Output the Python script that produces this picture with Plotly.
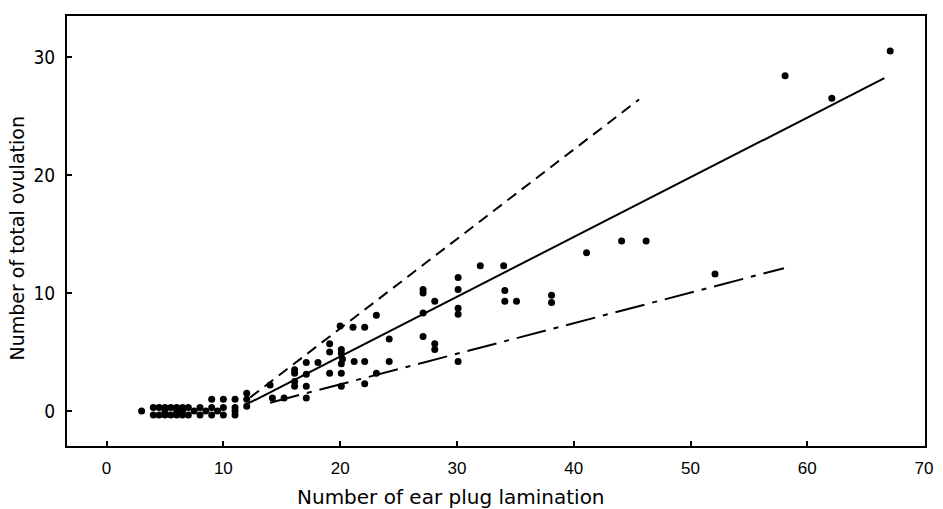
import plotly.graph_objects as go

# Scatter data: number of ear plug laminations vs number of total ovulations
lam_x = [3, 4, 4, 4.5, 4.5, 5, 5, 5, 5.5, 5.5, 6, 6, 6, 6.5, 6.5, 6.5, 7, 7, 7.5, 8, 8, 8.5,
         9, 9, 9, 9.5, 10, 10, 10, 11, 11, 11, 11, 12, 12, 12,
         14, 14.2, 15.2, 16.1, 16.1, 16.1, 16.1, 17.1, 17.1, 17.1, 17.1, 18.1,
         19.1, 19.1, 19.1, 20, 20.1, 20.1, 20.2, 20.1, 20.1, 20.1,
         21.1, 21.2, 22.1, 22.1, 22.1, 23.1, 23.1, 24.2, 24.2,
         27.1, 27.1, 27.1, 27.1, 28.1, 28.1, 28.1, 30.1, 30.1, 30.1, 30.1, 30.1,
         32, 34, 34.1, 34.1, 35.1, 38.1, 38.1, 41.1, 44.1, 46.2, 52.1, 58.1, 62.1, 67.1]
ovu_y = [0, 0.3, -0.35, 0.3, -0.35, 0.3, 0, -0.35, 0.3, -0.35, 0.3, 0, -0.35, 0.3, 0, -0.35, 0.3, -0.35, 0, 0.3, -0.35, 0,
         1, 0.3, -0.35, 0, 1, 0.3, -0.35, 1, 0.3, 0, -0.35, 1.5, 1, 0.4,
         2.2, 1.1, 1.1, 3.5, 3.2, 2.5, 2.1, 4.1, 3.1, 2.1, 1.1, 4.1,
         5.7, 5.0, 3.2, 7.2, 5.2, 4.9, 4.4, 4.0, 3.2, 2.1,
         7.1, 4.2, 7.1, 4.2, 2.3, 8.1, 3.2, 6.1, 4.2,
         10.3, 10.0, 8.3, 6.3, 9.3, 5.7, 5.2, 11.3, 10.3, 8.7, 8.2, 4.2,
         12.3, 12.3, 10.2, 9.3, 9.3, 9.8, 9.2, 13.4, 14.4, 14.4, 11.6, 28.4, 26.5, 30.5]

# Regression lines (end points)
solid_x = [12, 66.6]
solid_y = [0.57, 28.2]
dashed_x = [12.3, 45.6]
dashed_y = [1.15, 26.4]
dashdot_x = [14, 58]
dashdot_y = [0.7, 12.1]

x_ticks = [0, 10, 20, 30, 40, 50, 60, 70]
y_ticks = [0, 10, 20, 30]

fig = go.Figure()
fig.add_trace(go.Scatter(x=solid_x, y=solid_y, mode="lines",
                         line=dict(color="black", width=2), showlegend=False))
fig.add_trace(go.Scatter(x=dashed_x, y=dashed_y, mode="lines",
                         line=dict(color="black", width=2, dash="11px,7px"), showlegend=False))
fig.add_trace(go.Scatter(x=dashdot_x, y=dashdot_y, mode="lines",
                         line=dict(color="black", width=2, dash="30px,8px,5px,8px"), showlegend=False))
fig.add_trace(go.Scatter(x=lam_x, y=ovu_y, mode="markers",
                         marker=dict(color="black", size=7), showlegend=False))

fig.update_layout(
    width=943, height=509,
    margin=dict(l=67, r=9, t=16, b=63),
    plot_bgcolor="white", paper_bgcolor="white",
    font=dict(family="DejaVu Sans", color="black"),
    xaxis=dict(range=[-3.39, 70.08], tickvals=x_ticks, ticktext=[str(v) for v in x_ticks],
               showline=True, linecolor="black", linewidth=2, mirror=True,
               ticks="inside", ticklen=5, tickwidth=1.5, tickcolor="black",
               showgrid=False, zeroline=False, ticklabelstandoff=6,
               tickfont=dict(family="Liberation Sans, Arial", size=17, color="black")),
    yaxis=dict(range=[-2.97, 33.47], tickvals=y_ticks, ticktext=[str(v) for v in y_ticks],
               showline=True, linecolor="black", linewidth=2, mirror=True,
               ticks="inside", ticklen=5, tickwidth=1.5, tickcolor="black",
               showgrid=False, zeroline=False, ticklabelstandoff=6,
               tickfont=dict(family="Liberation Sans Narrow, DejaVu Sans Condensed, Arial Narrow", size=19, color="black")),
    annotations=[
        dict(text="Number of ear plug lamination", xref="paper", yref="paper",
             x=0.4475, y=-0.118, xanchor="center", yanchor="middle", showarrow=False,
             font=dict(family="DejaVu Sans", size=20, color="black")),
        dict(text="Number of total ovulation", xref="paper", yref="paper",
             x=-0.0577, y=0.4837, xanchor="center", yanchor="middle", showarrow=False,
             textangle=-90, font=dict(family="DejaVu Sans", size=19, color="black")),
    ],
)

fig.write_html("out.html")
